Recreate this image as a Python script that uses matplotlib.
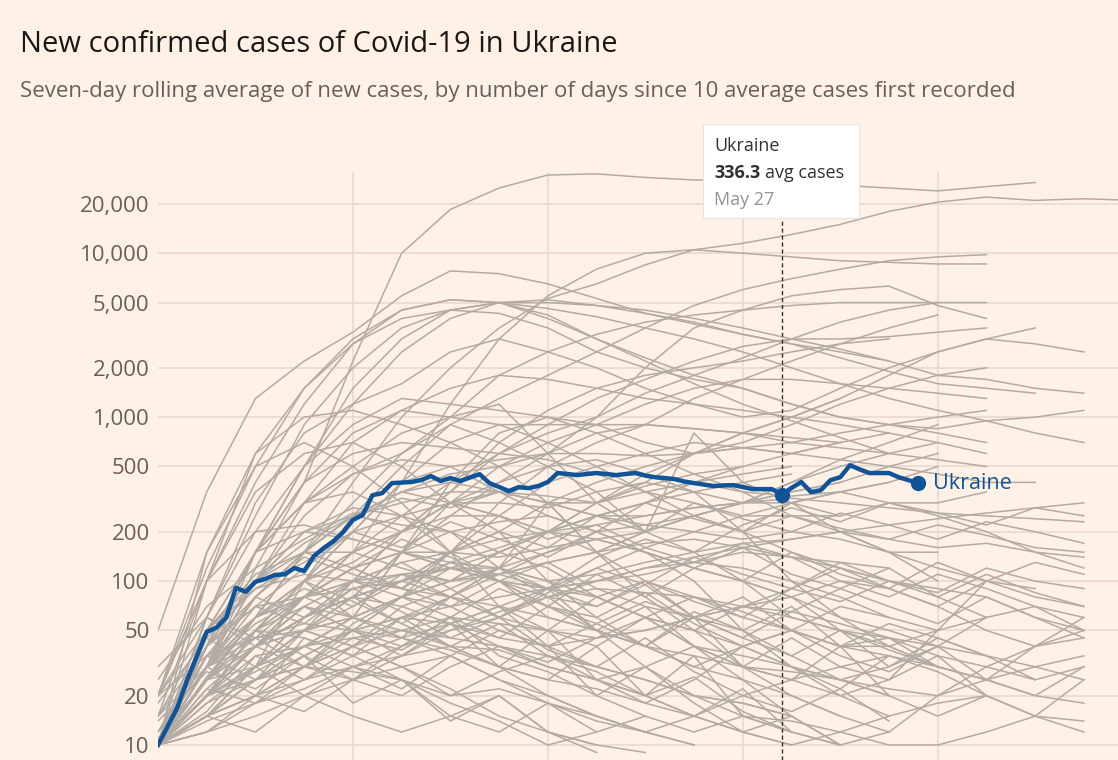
import numpy as np
import matplotlib
matplotlib.use("Agg")
import matplotlib.pyplot as plt
from matplotlib.patches import Rectangle
from matplotlib.ticker import FixedLocator, FixedFormatter, NullLocator

# Ukraine, 7-day average of new cases, daily from day 0 (first day with 10 avg cases)
ukraine = [10, 13, 17, 25, 35, 49, 52, 60, 91, 86,
           99, 103, 109, 110, 120, 115, 142, 159, 175, 199,
           236, 253, 334, 344, 396, 399, 402, 413, 437, 408,
           425, 408, 428, 449, 396, 375, 354, 374, 369, 380,
           402, 456, 450, 443, 450, 456, 450, 443, 450, 456,
           440, 430, 425, 419, 405, 396, 388, 380, 383, 385,
           375, 364, 364, 364, 336.3, 370, 402, 349, 358, 413,
           430, 509, 480, 456, 456, 456, 430, 413, 396]
hover_day = 64
hover_date = "May 27"

# other countries, values every 5 days since day 0
step_days = 5
others = [
    [10, 30, 120, 400, 2200, 10000, 18500, 25000, 30000, 30500, 29000, 28000, 28000, 27000, 26000, 25000, 24000, 25500, 27000],
    [10, 25, 60, 150, 400, 1000, 2000, 3500, 5300, 6500, 8500, 10500, 11500, 13000, 15000, 18000, 20500, 22000, 21000, 21500, 21000],
    [50, 350, 1300, 2200, 3300, 5500, 7800, 7500, 6500, 5300, 4300, 3700, 3200, 2800, 2500, 2200],
    [10, 40, 150, 500, 1200, 2500, 4000, 5000, 5200, 4800, 4300, 3800, 3200, 2800, 2300, 1900, 1600, 1500, 1400],
    [20, 120, 500, 1500, 3000, 4500, 5200, 5000, 4600, 4100, 3500, 3000, 2500, 2000, 1600, 1300, 1100, 950, 800, 700],
    [10, 60, 250, 900, 2000, 3500, 4500, 5000, 4200, 3000, 2300, 1800, 1500, 1200, 1000, 900, 800, 700],
    [15, 100, 400, 1200, 2800, 4500, 5200, 5000, 4000, 3000, 2200, 1600, 1200, 950, 750, 600, 550, 500],
    [10, 20, 40, 80, 150, 400, 1200, 3000, 5500, 8000, 10000, 10500, 10000, 9500, 9000, 8800, 8600, 8600],
    [10, 20, 50, 100, 250, 500, 900, 1300, 1800, 2500, 3500, 4800, 6000, 7000, 8000, 9000, 9500, 9800],
    [10, 25, 60, 150, 300, 600, 1000, 1800, 2500, 3200, 3800, 4200, 4500, 4800, 5000, 5000, 5000, 5000],
    [10, 100, 600, 1500, 2800, 4000, 4500, 4300, 3500, 2500, 2000, 1700, 1500, 1200, 1000, 900, 850, 950, 1000, 1100],
    [10, 60, 300, 800, 1200, 1600, 2500, 3000, 2500, 2000, 1500, 1200, 1000, 1100, 1500, 2000, 2500, 3000, 2800, 2500],
    [10, 30, 150, 500, 1500, 3000, 4500, 5000, 5000, 4800, 4500, 4000, 3500, 3000, 2600, 2200, 1800, 1700, 1500, 1400],
    [10, 15, 30, 60, 100, 200, 350, 600, 900, 1300, 1700, 2200, 2700, 3000, 3000, 3100, 3300, 3500],
    [10, 30, 100, 300, 700, 1100, 1500, 1800, 1700, 1500, 1300, 1200, 1100, 1000, 900, 800, 700, 600],
    [10, 20, 50, 100, 130, 200, 350, 700, 1100, 1500, 1800, 2000, 2200, 2500, 2800, 3500, 4200],
    [10, 20, 40, 80, 150, 250, 400, 600, 800, 1000, 1400, 1800, 2300, 3000, 3800, 4500, 5000],
    [10, 30, 80, 150, 250, 350, 450, 500, 600, 1000, 2000, 3500, 4500, 5500, 6000, 6300, 4800, 4000],
    [10, 60, 200, 500, 900, 1300, 1200, 1100, 1000, 800, 600, 450, 350, 250, 200, 150, 120, 100, 90],
    [10, 50, 150, 400, 800, 1100, 1000, 900, 700, 500, 350, 250, 200, 150, 120, 100],
    [10, 30, 60, 100, 200, 400, 500, 550, 600, 600, 580, 600, 650, 700, 800, 900, 1000, 1100],
    [10, 40, 150, 300, 500, 800, 1000, 1200, 600, 300, 200, 800, 400, 300, 200, 150, 100],
    [20, 150, 600, 1000, 1100, 900, 700, 500, 300, 150, 80, 50, 30, 20, 15, 12],
    [10, 40, 150, 400, 600, 700, 650, 600, 550, 450, 350, 300, 250, 250, 250, 300, 300, 350],
    [10, 30, 100, 250, 450, 550, 500, 350, 250, 200, 150, 100, 50, 30, 20, 25, 50, 100],
    [20, 100, 350, 600, 700, 500, 300, 200, 100, 60, 40, 30, 25, 20, 15],
    [10, 20, 30, 50, 80, 150, 300, 500, 700, 900, 1200, 1500, 1700, 1700, 1600, 1500, 1400, 1300],
    [10, 15, 25, 40, 60, 150, 400, 800, 1000, 900, 700, 600, 650, 600, 550, 500, 450, 400, 400],
    [10, 20, 50, 100, 200, 400, 700, 900, 900, 900, 900, 850, 800, 750, 700],
    [10, 20, 30, 50, 100, 200, 300, 400, 500, 700, 900, 1300, 1700, 2200, 2800, 3000],
    [10, 30, 60, 80, 90, 100, 130, 160, 200, 300, 400, 600, 800, 1000, 1300, 1800, 2500, 3000, 3500],
    [10, 20, 40, 60, 80, 100, 150, 200, 300, 400, 500, 600, 700, 900, 1200, 1500, 1800, 2000],
    [10, 15, 25, 40, 60, 80, 100, 150, 200, 300, 450, 600, 800, 1000, 1300],
    [10, 20, 30, 40, 50, 80, 150, 300, 500, 550, 450, 350, 200, 100, 60, 40, 30, 25, 40, 50],
    [10, 150, 500, 700, 500, 300, 150, 100, 90, 80, 60, 40, 25, 15, 10, 12, 20, 30, 40, 45],
    [10, 30, 100, 200, 250, 220, 200, 230, 250, 200, 220, 250, 300, 350, 400, 500, 600],
    [10, 20, 50, 100, 150, 200, 300, 350, 300, 300, 380, 450, 500, 600, 700, 800],
    [10, 20, 50, 80, 100, 110, 100, 110, 130, 150, 200, 250, 300, 400, 550, 700, 900],
    [10, 30, 70, 120, 200, 250, 300, 300, 280, 350, 400, 350, 300, 300, 350, 400, 500],
    [10, 30, 80, 150, 250, 350, 400, 350, 330, 300, 350, 400, 350, 330, 350, 400],
    [10, 30, 80, 150, 250, 300, 350, 350, 300, 250, 220, 200, 180, 200, 180, 150, 150],
    [10, 40, 150, 300, 450, 600, 900, 700, 500, 350, 200, 150, 100, 60, 50, 40, 30],
    [10, 40, 100, 150, 150, 120, 100, 110, 150, 180, 200, 250, 300, 400, 500, 600, 700],
    [10, 15, 30, 50, 80, 150, 250, 400, 600, 800, 900, 850, 800, 700, 650, 600],
    [10, 50, 150, 200, 180, 150, 120, 100, 70, 50, 40, 30, 40, 30, 25, 20, 15, 20],
    [10, 30, 60, 100, 150, 200, 250, 250, 200, 180, 150, 120, 100, 80, 60, 50, 40],
    [20, 100, 200, 220, 180, 150, 120, 100, 80, 50, 30, 20, 15, 12, 10],
    [10, 40, 100, 200, 280, 250, 200, 150, 120, 80, 60, 50, 40, 50, 70, 60, 50],
    [10, 40, 150, 300, 350, 250, 150, 70, 40, 20, 15, 12, 15, 14, 12, 10, 10, 12, 15, 14],
    [10, 20, 40, 60, 80, 100, 120, 100, 90, 100, 120, 130, 120, 100, 80, 60],
    [10, 25, 60, 150, 250, 350, 300, 250, 200, 150, 100, 80, 60, 50, 40, 40, 50, 60],
    [10, 20, 40, 60, 80, 100, 120, 120, 100, 80, 60, 40, 30, 25, 20, 15],
    [10, 20, 40, 60, 90, 110, 120, 110, 130, 150, 170, 180, 160, 140, 130, 120],
    [10, 20, 40, 80, 120, 150, 150, 140, 160, 180, 150, 120, 100, 80, 50, 30, 40, 60],
    [10, 20, 40, 50, 60, 80, 100, 150, 200, 250, 300, 350, 400, 450],
    [10, 25, 40, 50, 60, 80, 100, 120, 150, 200, 300, 400, 450, 500],
    [10, 15, 30, 50, 80, 100, 150, 250, 400, 500, 600, 700, 650, 600, 700],
    [10, 15, 30, 100, 60, 150, 200, 120, 300, 150, 200, 250, 200, 300, 250],
    [10, 15, 20, 30, 50, 80, 120, 150, 200, 250, 250, 280, 300, 350, 400],
    [10, 15, 25, 30, 40, 60, 80, 120, 200, 250, 300, 400, 500],
    [10, 25, 30, 20, 15, 12, 15, 20, 12, 10],
    [10, 20, 35, 40, 30, 25, 15, 12, 18, 12],
    [12, 30, 50, 45, 35, 25, 18, 14, 10, 12, 15],
    [10, 18, 25, 30, 28, 25, 20, 22, 18, 15, 12, 10],
    [15, 40, 70, 80, 60, 50, 40, 30, 20, 15, 12],
    [10, 15, 20, 30, 40, 50, 45, 40, 35, 30, 25, 20, 18, 15],
    [10, 30, 45, 55, 50, 45, 38, 30, 25, 22, 18, 15, 12, 10],
    [20, 50, 90, 110, 100, 80, 70, 50, 40, 30, 25, 20, 18, 15],
    [10, 14, 18, 22, 30, 35, 40, 38, 30, 25, 20, 15, 12, 10, 12, 15, 18, 20, 15, 12],
    [10, 20, 25, 35, 50, 60, 55, 45, 40, 45, 50, 60, 70, 65, 55, 45, 35, 30, 25],
    [15, 30, 40, 30, 25, 30, 35, 25, 20, 15, 12, 10],
    [10, 22, 40, 60, 80, 70, 55, 40, 30, 25, 30, 40, 35, 30, 25, 20],
    [10, 12, 15, 20, 25, 35, 50, 65, 80, 90, 85, 80, 70, 60, 50, 45, 40, 35, 30, 25],
    [20, 35, 45, 50, 40, 30, 22, 15, 12, 10, 9],
    [10, 25, 50, 70, 60, 45, 35, 25, 18, 14, 12, 15, 20, 25, 30, 35],
    [10, 20, 40, 70, 100, 130, 150, 180, 200, 220, 250, 280, 300, 320, 300, 280, 260, 250, 240, 230],
    [10, 25, 50, 80, 120, 150, 130, 120, 100, 110, 130, 150, 170, 180, 200, 180, 160, 170, 150, 140],
    [10, 15, 25, 35, 50, 60, 70, 80, 90, 100, 110, 130, 150, 140, 120, 100, 90, 80, 60, 50],
    [10, 20, 30, 40, 45, 50, 60, 55, 50, 45, 50, 60, 70, 80, 100, 90, 70, 50, 40, 60],
    [10, 30, 60, 80, 100, 90, 80, 70, 60, 50, 40, 35, 30, 28, 25, 22, 20, 25, 30, 35],
    [10, 12, 18, 25, 35, 45, 55, 70, 90, 120, 160, 200, 250, 300, 350, 300, 250, 200, 150, 120],
    [10, 15, 20, 25, 30, 40, 50, 60, 80, 100, 120, 140, 160, 180, 200, 220, 240, 260, 280, 300],
    [10, 35, 60, 90, 70, 110, 80, 60, 90, 50, 40, 60, 30, 25, 40, 20],
    [12, 40, 80, 60, 100, 130, 90, 120, 80, 70, 100, 60, 50, 70, 40, 35, 30],
    [10, 30, 20, 45, 35, 60, 40, 30, 50, 25, 20, 35, 15, 12],
    [15, 50, 110, 150, 120, 180, 140, 100, 130, 90, 70, 60, 80, 50, 40, 45, 30, 25, 20, 18],
    [10, 25, 45, 30, 55, 80, 60, 90, 70, 110, 80, 120, 100, 150, 110, 90, 130, 100, 80, 70],
    [20, 60, 40, 70, 50, 35, 55, 30, 25, 40, 20, 15, 22, 12],
    [10, 20, 50, 35, 25, 40, 60, 45, 70, 55, 40, 65, 50, 35, 25, 30, 45, 35, 25, 30],
    [10, 45, 90, 130, 200, 160, 230, 180, 140, 200, 150, 120, 160, 110, 90, 120, 80, 60, 70, 50],
    [10, 18, 30, 50, 40, 70, 90, 60, 50, 80, 100, 75, 60, 90, 120, 90, 70, 100, 130, 110],
    [14, 28, 22, 35, 18, 25, 14, 20, 12, 9],
    [10, 40, 70, 55, 90, 65, 45, 60, 38, 30, 45, 28, 20, 16, 22, 14],
    [10, 22, 18, 30, 45, 38, 55, 70, 50, 40, 60, 80, 65, 50, 40, 55, 45, 35],
    [25, 70, 120, 180, 260, 200, 300, 250, 180, 220, 160, 130, 170, 140, 100, 80, 110, 90, 70, 60],
    [10, 30, 55, 80, 120, 90, 150, 200, 160, 250, 200, 300, 240, 200, 260, 220, 180, 230, 200, 170],
    [10, 16, 35, 25, 40, 30, 20, 28, 35, 25, 18, 25, 40, 30, 22, 35, 28, 20, 15, 25],
    [11, 25, 40, 70, 50, 40, 60, 35, 28, 20, 30, 18, 12, 15, 10],
    [10, 35, 80, 140, 110, 90, 130, 100, 70, 60, 85, 55, 40, 50, 35, 28, 40, 25, 20, 30],
    [10, 20, 28, 40, 60, 45, 80, 110, 90, 140, 180, 150, 220, 280, 230, 300, 260, 220, 280, 250],
    [30, 60, 45, 80, 120, 90, 70, 100, 60, 50, 70, 40, 30, 45, 30, 25, 35, 20],
    [10, 12, 20, 16, 25, 20, 30, 40, 32, 45, 60, 50, 70, 90, 75, 100, 85, 120, 100, 90],
    [10, 50, 100, 170, 250, 320, 280, 350, 300, 250, 300, 240, 200, 250, 210, 180, 220, 190, 160, 150],
    [18, 45, 30, 60, 80, 55, 40, 55, 35, 28, 20, 26, 16, 12, 10],
    [10, 26, 60, 100, 75, 55, 80, 120, 90, 70, 95, 60, 45, 35, 50, 38, 30, 25],
    [10, 15, 12, 20, 30, 22, 35, 50, 40, 55, 75, 60, 45, 65, 90, 70, 55, 80, 60, 45],
    [12, 35, 25, 50, 70, 100, 80, 60, 85, 120, 95, 140, 110, 90, 130, 100, 80, 110, 85, 70],
]

tick_values = [10, 20, 50, 100, 200, 500, 1000, 2000, 5000, 10000, 20000]
tick_labels = ["10", "20", "50", "100", "200", "500", "1,000", "2,000", "5,000", "10,000", "20,000"]
x_grid_days = [20, 40, 60, 80]

bg = "#FFF1E5"
grey_line = "#B3ABA3"
blue = "#0F5499"

plt.rcParams["font.family"] = ["Open Sans", "DejaVu Sans"]

fig = plt.figure(figsize=(11.18, 7.60), dpi=100, facecolor=bg)
ax = fig.add_axes([158 / 1118, 0.0, 1 - 158 / 1118, 1 - 172 / 760])
ax.set_facecolor(bg)

for vals in others:
    days = np.arange(len(vals)) * step_days
    ax.plot(days, vals, color=grey_line, lw=1.1, zorder=2)

ukr_days = np.arange(len(ukraine))
ax.plot(ukr_days, ukraine, color=blue, lw=3.2, zorder=5, solid_joinstyle="round")
ax.plot(ukr_days[-1], ukraine[-1], "o", color=blue, ms=10, zorder=6)
ax.plot(hover_day, ukraine[hover_day], "o", color=blue, ms=10, zorder=6)
ax.annotate("Ukraine", (ukr_days[-1], ukraine[-1]), xytext=(11, 0),
            textcoords="offset points", va="center", ha="left",
            fontsize=15.5, color=blue, zorder=7)

ax.set_yscale("log")
ax.set_ylim(8.1, 31300)
ax.set_xlim(0, 98.5)

ax.yaxis.set_major_locator(FixedLocator(tick_values))
ax.yaxis.set_major_formatter(FixedFormatter(tick_labels))
ax.yaxis.set_minor_locator(NullLocator())
ax.set_xticks(x_grid_days)
ax.set_xticklabels([])
ax.tick_params(axis="both", length=0)
ax.tick_params(axis="y", labelsize=16, labelcolor="#66605C", pad=6)
ax.grid(True, color="#E6D9CE", lw=1.2, zorder=0)
ax.set_axisbelow(True)
for s in ax.spines.values():
    s.set_visible(False)

# tooltip box above the hovered point
box_l, box_b, box_w, box_h = 703 / 1118, 1 - 218 / 760, 156 / 1118, 94 / 760
ax_b, ax_h = ax.get_position().y0, ax.get_position().height
ax.axvline(hover_day, ymax=(box_b - ax_b) / ax_h, color="#33302E",
           lw=1.0, ls=(0, (3, 2)), zorder=4)
fig.add_artist(Rectangle((box_l, box_b), box_w, box_h, transform=fig.transFigure,
                         facecolor="white", edgecolor="#EDE3DA", lw=0.8, zorder=10))
tx = box_l + 11 / 1118
fig.text(tx, 1 - 146 / 760, "Ukraine", fontsize=13, color="#33302E", va="center", zorder=11)
t = fig.text(tx, 1 - 173 / 760, f"{ukraine[hover_day]:.1f}", fontsize=13, fontweight="bold",
             color="#33302E", va="center", zorder=11)
fig.canvas.draw()
bb = t.get_window_extent()
fig.text(bb.x1 / 1118 + 5 / 1118, 1 - 173 / 760, "avg cases", fontsize=13,
         color="#33302E", va="center", zorder=11)
fig.text(tx, 1 - 200 / 760, hover_date, fontsize=13, color="#99918A", va="center", zorder=11)

fig.text(20 / 1118, 1 - 44 / 760, "New confirmed cases of Covid-19 in Ukraine",
         fontsize=21, color="#1A1817", va="center")
fig.text(20 / 1118, 1 - 92 / 760,
         "Seven-day rolling average of new cases, by number of days since 10 average cases first recorded",
         fontsize=16, color="#66605C", va="center")

fig.savefig("out.png", dpi=100, facecolor=bg)
